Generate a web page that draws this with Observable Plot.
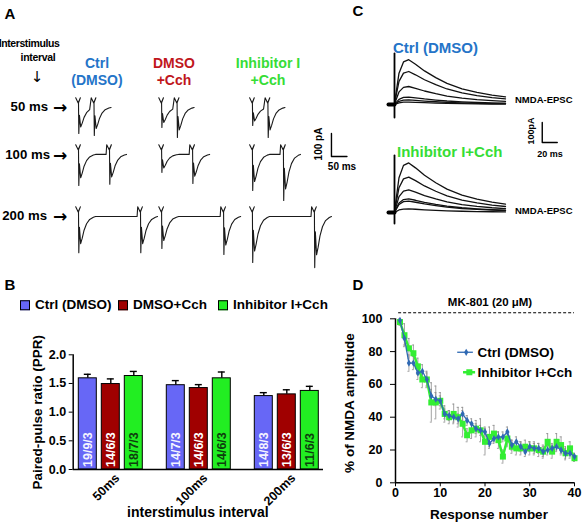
<!DOCTYPE html>
<html><head><meta charset="utf-8">
<script src="https://cdn.jsdelivr.net/npm/d3@7"></script>
<script src="https://cdn.jsdelivr.net/npm/@observablehq/plot@0.6"></script>
<style>
body{margin:0;background:#fff;}
#fig{position:relative;width:583px;height:524px;overflow:hidden;font-family:"Liberation Sans",Arial,Helvetica,sans-serif;font-weight:bold;color:#000;background:#fff;}
.t{position:absolute;white-space:nowrap;line-height:1;}
.lg{position:absolute;white-space:nowrap;font-size:13.5px;line-height:1;display:flex;align-items:center;transform:translateY(-50%);}
.sw{display:inline-block;width:8px;height:8px;border:1px solid #000;margin-right:5px;}
</style></head><body><div id="fig"></div>
<script>
// ---------------- DATA ----------------
// Panel A: paired-pulse traces
const intervalsA = ["50 ms", "100 ms", "200 ms"];
const isiMs = [50, 100, 200];
const conditionsA = ["Ctrl (DMSO)", "DMSO+Cch", "Inhibitor I+Cch"];
const ampFirstA = [[113, 87, 78], [135, 78, 157], [157, 139, 200]];   // pA, first EPSC
const ampSecondA = [[122, 130, 130], [130, 126, 200], [157, 165, 222]]; // pA, second EPSC
// EPSC waveform keypoints: [ms after stimulus, artifact pA, fraction of EPSC amplitude]
const epscShape = [[-9, 42, 0], [-1, 20, 0], [6, 42, 0], [0, 20, 0], [1, 0, -1], [3, 0, -0.3], [7, 0, -0.75],
  [12, 0, -0.6], [18, 0, -0.38], [26, 0, -0.2], [36, 0, -0.08], [48, 0, -0.02], [55, 0, 0]];
const scaleBarA = {pA: 100, ms: 50};

// Panel C: NMDA-EPSC traces (successive responses)
const ampCtrlC = [224, 165, 90, 37, 23, 12];
const ampInhC = [248, 177, 113, 68, 57, 18];
const nmdaShape = [[0, 0], [2, 0.25], [6, 0.7], [12, 0.95], [19, 1], [28, 0.9], [40, 0.75], [55, 0.6], [70, 0.47],
  [90, 0.35], [110, 0.27], [130, 0.21], [148, 0.17]];
const artifactC = [[255, -65], [285, -55]];
const scaleBarC = {pA: 100, ms: 20};

// Panel B: paired-pulse ratio
const pprIntervals = ["50ms", "100ms", "200ms"];
const pprConditions = ["Ctrl (DMSO)", "DMSO+Cch", "Inhibitor I+Cch"];
const pprMean = [[1.59, 1.49, 1.63], [1.47, 1.42, 1.59], [1.28, 1.31, 1.37]];
const pprSem = [[0.07, 0.09, 0.08], [0.08, 0.06, 0.11], [0.06, 0.08, 0.08]];
const pprN = [["19/9/3", "14/6/3", "18/7/3"], ["14/7/3", "14/6/3", "14/6/3"], ["14/8/3", "13/6/3", "11/6/3"]];
const yTicksB = [0, 0.5, 1, 1.5, 2];

// Panel D: MK-801 block
const responseNumber = d3.range(1, 41);
const ctrlD = [99,88,73,73,67,68,63,53,51,50,42,41,40,39,42,38,36,33,32,31,24,27,28,28,31,23,25,22,19,22,21,21,19,20,21,22,20,18,18,16];
const ctrlErrD = [1,4,5,4,4,4,4,4,4,3,3,3,3,3,4,3,3,3,3,3,3,3,3,3,3,3,3,3,3,3,3,3,3,3,3,3,3,3,3,2];
const inhD = [98,90,82,79,71,63,63,49,49,50,42,40,42,40,36,29,32,33,32,25,28,30,26,16,27,22,21,21,22,21,21,20,19,25,19,25,23,18,21,15];
const inhErrD = [2,7,6,5,5,5,5,12,10,5,5,4,6,6,8,4,5,5,7,8,6,5,5,4,5,4,4,4,4,4,4,4,4,5,4,5,5,4,4,2];
const yTicksD = [0, 20, 40, 60, 80, 100];
const xTicksD = [0, 10, 20, 30, 40];
const mkLevel = 103.7;

// ---------------- STYLE ----------------
const FONT = '"Liberation Sans", Arial, Helvetica, sans-serif';
const barColors = ["#6767f6", "#a00000", "#22ee22"];
const barTextColors = ["#f4f4ff", "#ffffff", "#0e3e0e"];
const headBlue = "#2474c8", headRed = "#c0161c", headGreen = "#36dd36";
const lineBlue = "#2f69b3", lineGreen = "#33ee33";

const fig = document.getElementById("fig");
function place(node, left, top) {
  node.style.position = "absolute"; node.style.left = left + "px"; node.style.top = top + "px";
  fig.appendChild(node);
}
function txt(s, x, y, size, {color = "#000", anchor = "middle", rotate = 0, spacing = 0} = {}) {
  const d = document.createElement("div");
  d.className = "t"; d.textContent = s;
  const tx = anchor === "start" ? "0" : anchor === "end" ? "-100%" : "-50%";
  d.style.cssText = `left:${x}px;top:${y}px;font-size:${size}px;color:${color};letter-spacing:${spacing}px;transform:translate(${tx},-50%) rotate(${rotate}deg);`;
  fig.appendChild(d);
}

// ---------------- PANEL A ----------------
{
  const W = 370, H = 280, pxMs = 0.31, pxPa = 0.23, ox = 78, oy = 107;
  const colStart = [0, 268, 561], rowBase = [0, -204, -474];
  const traces = [];
  intervalsA.forEach((iv, r) => conditionsA.forEach((c, k) => {
    const id = iv + "|" + c, isi = isiMs[r], x0 = colStart[k], y0 = rowBase[r];
    epscShape.filter(p => p[0] < isi - 10)
      .forEach(p => traces.push({id, t: x0 + p[0], v: y0 + p[1] + p[2] * ampFirstA[r][k]}));
    if (isi > 60) traces.push({id, t: x0 + isi - 11, v: y0});
    epscShape.forEach(p => traces.push({id, t: x0 + isi + p[0], v: y0 + p[1] + p[2] * ampSecondA[r][k]}));
  }));
  const sbx = 816, sby = -213;
  const sb = [{t: sbx, v: sby + scaleBarA.pA}, {t: sbx, v: sby}, {t: sbx + scaleBarA.ms, v: sby}];
  const p = Plot.plot({
    width: W, height: H, margin: 0,
    x: {domain: [-ox / pxMs, (W - ox) / pxMs], axis: null},
    y: {domain: [-(H - oy) / pxPa, oy / pxPa], axis: null},
    style: {background: "transparent", overflow: "visible"},
    marks: [
      Plot.line(traces, {x: "t", y: "v", z: "id", stroke: "#1a1a1a", strokeWidth: 1.1}),
      Plot.line(sb, {x: "t", y: "v", stroke: "#000", strokeWidth: 1.4})
    ]
  });
  place(p, 0, 0);
}

// ---------------- PANEL C ----------------
{
  const W = 213, H = 290, pxMs = 0.75, pxPa = 0.2, ox = 24, oy = 104;
  const rowBase = [0, -540];
  const traces = [], arts = [], blobs = [];
  [ampCtrlC, ampInhC].forEach((amps, r) => {
    amps.forEach((a, i) => nmdaShape.forEach(([t, f]) => traces.push({id: r + "-" + i, t, v: rowBase[r] + f * a})));
    arts.push({id: r, t: 0, v: rowBase[r] + artifactC[r][0]}, {id: r, t: 0, v: rowBase[r] + artifactC[r][1]});
    blobs.push({id: r, t: -8, v: rowBase[r]}, {id: r, t: 0, v: rowBase[r]});
  });
  const sbx = 197, sby = -190;
  const sb = [{t: sbx, v: sby + scaleBarC.pA}, {t: sbx, v: sby}, {t: sbx + scaleBarC.ms, v: sby}];
  const p = Plot.plot({
    width: W, height: H, margin: 0,
    x: {domain: [-ox / pxMs, (W - ox) / pxMs], axis: null},
    y: {domain: [-(H - oy) / pxPa, oy / pxPa], axis: null},
    style: {background: "transparent", overflow: "visible"},
    marks: [
      Plot.line(traces, {x: "t", y: "v", z: "id", stroke: "#111", strokeWidth: 1.3}),
      Plot.line(arts, {x: "t", y: "v", z: "id", stroke: "#000", strokeWidth: 1.8}),
      Plot.line(blobs, {x: "t", y: "v", z: "id", stroke: "#000", strokeWidth: 4}),
      Plot.line(sb, {x: "t", y: "v", stroke: "#000", strokeWidth: 1.4})
    ]
  });
  place(p, 370, 0);
}

// ---------------- PANEL B ----------------
{
  const rows = [];
  pprIntervals.forEach((iv, i) => pprConditions.forEach((c, j) =>
    rows.push({interval: iv, condition: c, ci: j, mean: pprMean[i][j], sem: pprSem[i][j], n: pprN[i][j]})));
  const dims = {width: 330, height: 184, marginLeft: 72.7, marginRight: 7, marginTop: 14.3, marginBottom: 55};
  const style = {fontFamily: FONT, fontWeight: "bold", fontSize: "12.5px", background: "transparent", overflow: "visible"};
  const marks = [
    Plot.ruleX(rows, {fx: "interval", x: "condition", y1: "mean", y2: d => d.mean + d.sem, stroke: "#000", strokeWidth: 1.4}),
    Plot.tickY(rows, {fx: "interval", x: "condition", y: d => d.mean + d.sem, insetLeft: 5.5, insetRight: 5.5, stroke: "#000", strokeWidth: 1.4})
  ];
  pprConditions.forEach((c, j) => {
    const sub = rows.filter(d => d.ci === j);
    marks.push(Plot.barY(sub, {fx: "interval", x: "condition", y: "mean", fill: barColors[j], stroke: "#000", strokeWidth: 1}));
    marks.push(Plot.text(sub, {fx: "interval", x: "condition", y: 0, text: "n", rotate: -90, textAnchor: "start",
      dy: -2.5, fill: barTextColors[j], fontSize: 12.5, fontWeight: "bold"}));
  });
  // interval labels below each group, rotated like the reference
  marks.push(Plot.text(pprIntervals, {fx: d => d, text: d => d, frameAnchor: "bottom", rotate: -45, textAnchor: "end",
    lineAnchor: "top", dx: 3, dy: 3, fontSize: 12.5, fontWeight: "bold"}));
  const bars = Plot.plot({
    ...dims, style,
    fx: {domain: pprIntervals, axis: null, label: null, paddingInner: 0.243, paddingOuter: 0.042},
    x: {domain: pprConditions, axis: null, paddingInner: 0.2, paddingOuter: 0},
    y: {domain: [0, 2], axis: null},
    marks
  });
  place(bars, 0, 340);
  const axes = Plot.plot({
    ...dims, style,
    x: {domain: [0, 1], axis: null},
    y: {domain: [0, 2], ticks: yTicksB, tickFormat: d3.format(".1f"), tickSize: 4, tickPadding: 3, label: null},
    marks: [
      Plot.ruleX([0], {stroke: "#000", strokeWidth: 1.5}),
      Plot.ruleY([0], {stroke: "#000", strokeWidth: 1.5}),
      Plot.text(["Paired-pulse ratio (PPR)"], {frameAnchor: "left", rotate: -90, textAnchor: "middle", dx: -36, fontSize: 13.5, fontWeight: "bold"}),
      Plot.text(["interstimulus interval"], {frameAnchor: "bottom", textAnchor: "middle", dx: -0.5, dy: 47, fontSize: 14, fontWeight: "bold"})
    ]
  });
  place(axes, 0, 340);
  // legend
  pprConditions.forEach((c, j) => {
    const d = document.createElement("div");
    d.className = "lg";
    d.style.left = [20, 118, 218][j] + "px"; d.style.top = "305px";
    const s = document.createElement("span"); s.className = "sw"; s.style.background = barColors[j];
    d.appendChild(s); d.appendChild(document.createTextNode(c));
    fig.appendChild(d);
  });
}

// ---------------- PANEL D ----------------
{
  const ctrl = responseNumber.map((n, i) => ({n, v: ctrlD[i], e: ctrlErrD[i]}));
  const inh = responseNumber.map((n, i) => ({n, v: inhD[i], e: inhErrD[i]}));
  const err = (data) => [
    Plot.ruleX(data, {x: "n", y1: d => d.v - d.e, y2: d => d.v + d.e, stroke: "#8c8c8c", strokeWidth: 0.8}),
    Plot.ruleY(data, {y: d => d.v + d.e, x1: d => d.n - 0.22, x2: d => d.n + 0.22, stroke: "#8c8c8c", strokeWidth: 0.8}),
    Plot.ruleY(data, {y: d => d.v - d.e, x1: d => d.n - 0.22, x2: d => d.n + 0.22, stroke: "#8c8c8c", strokeWidth: 0.8})
  ];
  const legend = [
    {label: "Ctrl (DMSO)", x1: 13.9, x2: 17.4, xm: 15.8, y: 79.6},
    {label: "Inhibitor I+Cch", x1: 15.2, x2: 17.9, xm: 16.5, y: 67.4}
  ];
  const p = Plot.plot({
    width: 253, height: 224, marginLeft: 65, marginRight: 9, marginTop: 18.3, marginBottom: 41.7,
    style: {fontFamily: FONT, fontWeight: "bold", fontSize: "12.5px", background: "transparent", overflow: "visible"},
    x: {domain: [0, 40], ticks: xTicksD, tickSize: 4, tickPadding: 1, label: null},
    y: {domain: [0, 100], ticks: yTicksD, tickSize: 5, tickPadding: 8, label: null},
    marks: [
      Plot.ruleY([mkLevel], {x1: 0.7, x2: 40, stroke: "#000", strokeWidth: 1.2, strokeDasharray: "3,2"}),
      ...err(inh), ...err(ctrl),
      Plot.line(inh, {x: "n", y: "v", stroke: lineGreen, strokeWidth: 2.5}),
      Plot.dot(inh, {x: "n", y: "v", symbol: "square", r: 3.4, fill: lineGreen}),
      Plot.line(ctrl, {x: "n", y: "v", stroke: lineBlue, strokeWidth: 1.3}),
      Plot.dot(ctrl, {x: "n", y: "v", symbol: "diamond", r: 2.2, fill: lineBlue}),
      Plot.ruleX([0], {stroke: "#000", strokeWidth: 1.5}),
      Plot.ruleY([0], {stroke: "#000", strokeWidth: 1.5}),
      // legend
      Plot.ruleY(legend.slice(1), {y: "y", x1: "x1", x2: "x2", stroke: lineGreen, strokeWidth: 2.5}),
      Plot.dot(legend.slice(1), {x: "xm", y: "y", symbol: "square", r: 3.4, fill: lineGreen}),
      Plot.ruleY(legend.slice(0, 1), {y: "y", x1: "x1", x2: "x2", stroke: lineBlue, strokeWidth: 1.3}),
      Plot.dot(legend.slice(0, 1), {x: "xm", y: "y", symbol: "diamond", r: 2.2, fill: lineBlue}),
      Plot.text(legend, {x: 18.3, y: "y", text: "label", textAnchor: "start", fontSize: 13.5, fontWeight: "bold"})
    ]
  });
  place(p, 330, 300);
  txt("MK-801 (20 μM)", 490, 303, 11.5);
  txt("% of NMDA amplitude", 350, 403, 13.5, {rotate: -90});
  txt("Response number", 489, 515, 13.5);
}

// ---------------- PANEL LABELS & ANNOTATIONS ----------------
txt("A", 10, 13, 15); txt("B", 10, 284, 15); txt("C", 358, 10, 15); txt("D", 358, 284, 15);
txt("Interstimulus", 29, 43, 10.5, {spacing: -0.4});
txt("interval", 38, 57, 10.5, {spacing: -0.3});
d3.select(fig).append("div").attr("class", "t").text("↓")
  .style("left", "37px").style("top", "77px").style("font-size", "15px").style("font-weight", "normal")
  .style("font-family", "DejaVu Sans").style("transform", "translate(-50%,-50%)");
[["50 ms", 107, 48], ["100 ms", 155, 50], ["200 ms", 216, 47]].forEach(([s, y, xr]) => {
  txt(s, xr, y, 13.2, {anchor: "end"});
  d3.select(fig).append("div").attr("class", "t").text("→")
    .style("left", "60px").style("top", y + "px").style("font-size", "17px").style("font-weight", "bold")
    .style("font-family", "DejaVu Sans").style("transform", "translate(-50%,-50%)");
});
txt("Ctrl", 97, 63, 14, {color: headBlue}); txt("(DMSO)", 97, 80, 14, {color: headBlue});
txt("DMSO", 174, 63, 14, {color: headRed}); txt("+Cch", 174, 80, 14, {color: headRed});
txt("Inhibitor I", 268, 63, 14.2, {color: headGreen}); txt("+Cch", 268, 80, 14.2, {color: headGreen});
txt("100 pA", 319, 144, 10, {rotate: -90});
txt("50 ms", 342, 167, 10);
txt("Ctrl (DMSO)", 393, 47, 15, {color: headBlue, anchor: "start"});
txt("Inhibitor I+Cch", 397, 151, 15, {color: headGreen, anchor: "start"});
txt("NMDA-EPSC", 515, 100, 9.5, {anchor: "start"});
txt("NMDA-EPSC", 515, 211, 9.5, {anchor: "start"});
txt("100pA", 531, 131, 9, {rotate: -90});
txt("20 ms", 550, 154, 9);
</script></body></html>
